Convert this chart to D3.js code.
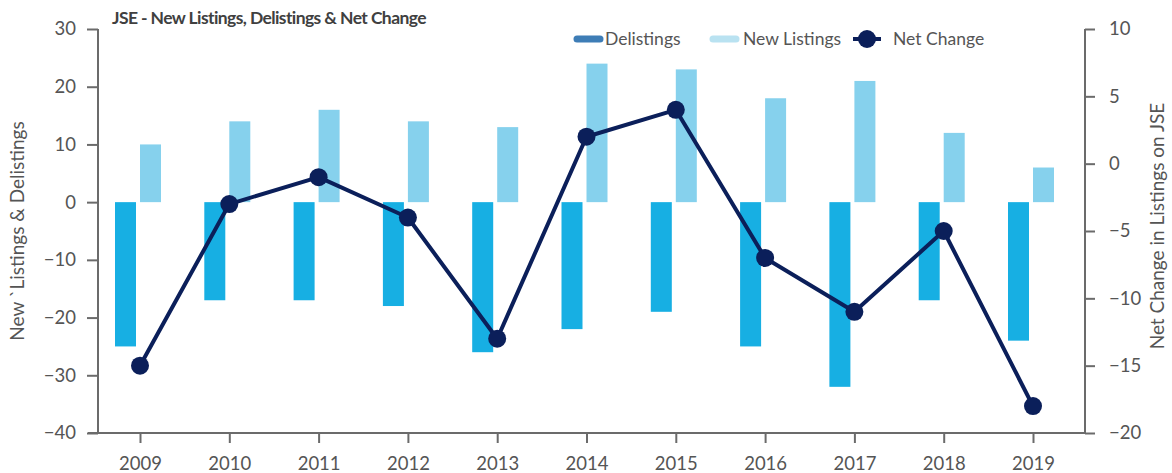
<!DOCTYPE html>
<html>
<head>
<meta charset="utf-8">
<script src="https://cdn.jsdelivr.net/npm/d3@7"></script>
<style>
  body { margin: 0; background: #fff; }
  text { font-family: Lato, "Open Sans", sans-serif; }
</style>
</head>
<body>
<div id="chart"></div>
<script>
var years = ["2009", "2010", "2011", "2012", "2013", "2014", "2015", "2016", "2017", "2018", "2019"];
var newListings = [10, 14, 16, 14, 13, 24, 23, 18, 21, 12, 6];
var delistings = [-25, -17, -17, -18, -26, -22, -19, -25, -32, -17, -24];
var netChange = [-15, -3, -1, -4, -13, 2, 4, -7, -11, -5, -18];
var leftTicks = [30, 20, 10, 0, -10, -20, -30, -40];
var rightTicks = [10, 5, 0, -5, -10, -15, -20];

var width = 1172, height = 473;
var plotLeft = 98, plotRight = 1085, plotTop = 29, plotBottom = 433;
var axisColor = "#6b6b6b", textColor = "#555555";
var delistColor = "#17afe3", newColor = "#86d1ed", lineColor = "#0b1f5a";

var svg = d3.select("#chart").append("svg")
	.attr("width", width)
	.attr("height", height);

var x = d3.scalePoint().domain(years).range([140, 1033]);
var yLeft = d3.scaleLinear().domain([-40, 30]).range([plotBottom, plotTop]);
var yRight = d3.scaleLinear().domain([-20, 10]).range([plotBottom, plotTop]);

var barWidth = 21;

// bars
svg.selectAll("rect.delist")
	.data(years)
	.enter()
	.append("rect")
	.attr("class", "delist")
	.attr("x", function (d) { return x(d) - 4 - barWidth; })
	.attr("y", yLeft(0))
	.attr("width", barWidth)
	.attr("height", function (d, i) { return yLeft(delistings[i]) - yLeft(0); })
	.style("fill", delistColor);

svg.selectAll("rect.new")
	.data(years)
	.enter()
	.append("rect")
	.attr("class", "new")
	.attr("x", function (d) { return x(d); })
	.attr("y", function (d, i) { return yLeft(newListings[i]); })
	.attr("width", barWidth)
	.attr("height", function (d, i) { return yLeft(0) - yLeft(newListings[i]); })
	.style("fill", newColor);

// axes
var leftAxis = svg.append("g")
	.attr("transform", "translate(" + plotLeft + ",0)")
	.call(d3.axisLeft(yLeft).tickValues(leftTicks).tickSize(11).tickPadding(11));

var rightAxis = svg.append("g")
	.attr("transform", "translate(" + plotRight + ",0)")
	.call(d3.axisRight(yRight).tickValues(rightTicks).tickSize(10).tickPadding(14));

var bottomAxis = svg.append("g")
	.attr("transform", "translate(0," + plotBottom + ")")
	.call(d3.axisBottom(x).tickSize(10).tickPadding(11));

[leftAxis, rightAxis, bottomAxis].forEach(function (g) {
	g.select(".domain").remove();
	g.selectAll("line").attr("stroke", axisColor).attr("stroke-width", 2);
	g.selectAll("text")
		.style("font-size", "18.5px")
		.style("fill", textColor);
});
bottomAxis.selectAll("text").attr("dy", "0.85em");

svg.append("line")
	.attr("x1", plotLeft).attr("x2", plotLeft)
	.attr("y1", plotTop).attr("y2", plotBottom + 1)
	.attr("stroke", axisColor).attr("stroke-width", 2);
svg.append("line")
	.attr("x1", plotRight).attr("x2", plotRight)
	.attr("y1", plotTop).attr("y2", plotBottom + 1)
	.attr("stroke", axisColor).attr("stroke-width", 2);
svg.append("line")
	.attr("x1", plotLeft - 10).attr("x2", plotRight)
	.attr("y1", plotBottom).attr("y2", plotBottom)
	.attr("stroke", axisColor).attr("stroke-width", 2);

// net change line
var line = d3.line()
	.x(function (d, i) { return x(years[i]); })
	.y(function (d) { return yRight(d); });

svg.append("path")
	.datum(netChange)
	.attr("d", line)
	.attr("fill", "none")
	.attr("stroke", lineColor)
	.attr("stroke-width", 4)
	.attr("stroke-linejoin", "round");

svg.selectAll("circle.net")
	.data(netChange)
	.enter()
	.append("circle")
	.attr("class", "net")
	.attr("cx", function (d, i) { return x(years[i]); })
	.attr("cy", function (d) { return yRight(d); })
	.attr("r", 9)
	.style("fill", lineColor);

// titles
svg.append("text")
	.attr("x", 112)
	.attr("y", 24)
	.style("font-size", "17.5px")
	.style("font-weight", "bold")
	.style("letter-spacing", "-0.6px")
	.style("fill", "#404040")
	.text("JSE - New Listings, Delistings & Net Change");

svg.append("text")
	.attr("transform", "translate(24,231) rotate(-90)")
	.attr("text-anchor", "middle")
	.style("font-size", "19px")
	.style("fill", textColor)
	.text("New `Listings & Delistings");

svg.append("text")
	.attr("transform", "translate(1164,226) rotate(-90)")
	.attr("text-anchor", "middle")
	.style("font-size", "19px")
	.style("fill", textColor)
	.text("Net Change in Listings on JSE");

// legend
var legendY = 39;
var legend = svg.append("g");
legend.append("line")
	.attr("x1", 577).attr("x2", 600)
	.attr("y1", legendY).attr("y2", legendY)
	.attr("stroke", "#3e7db6").attr("stroke-width", 7).attr("stroke-linecap", "round");
legend.append("text")
	.attr("x", 605).attr("y", legendY).attr("dy", "0.35em")
	.style("font-size", "17.5px").style("fill", textColor)
	.text("Delistings");
legend.append("line")
	.attr("x1", 713).attr("x2", 736)
	.attr("y1", legendY).attr("y2", legendY)
	.attr("stroke", "#b9e2f1").attr("stroke-width", 7).attr("stroke-linecap", "round");
legend.append("text")
	.attr("x", 743).attr("y", legendY).attr("dy", "0.35em")
	.style("font-size", "17.5px").style("fill", textColor)
	.text("New Listings");
legend.append("line")
	.attr("x1", 853).attr("x2", 881)
	.attr("y1", legendY).attr("y2", legendY)
	.attr("stroke", lineColor).attr("stroke-width", 4);
legend.append("circle")
	.attr("cx", 867).attr("cy", legendY).attr("r", 9)
	.style("fill", lineColor);
legend.append("text")
	.attr("x", 893).attr("y", legendY).attr("dy", "0.35em")
	.style("font-size", "17.5px").style("fill", textColor)
	.text("Net Change");
</script>
</body>
</html>
